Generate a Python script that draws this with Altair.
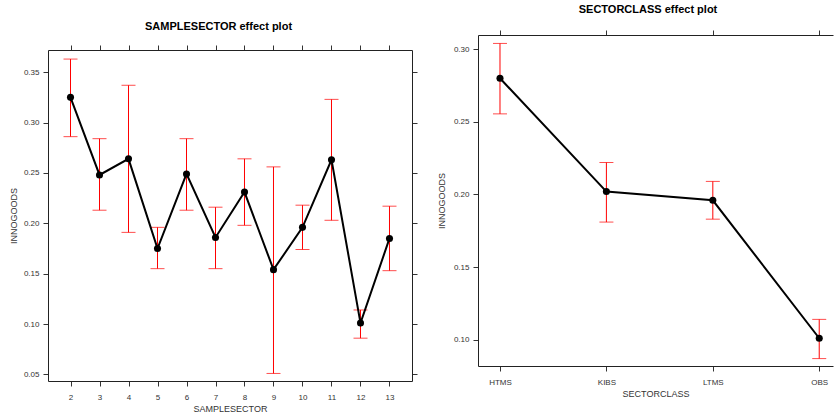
import altair as alt
import pandas as pd

# ---- data ----
sample_sectors = ["2", "3", "4", "5", "6", "7", "8", "9", "10", "11", "12", "13"]
sample_fit = [0.325, 0.248, 0.264, 0.175, 0.249, 0.186, 0.231, 0.154, 0.196, 0.263, 0.101, 0.185]
sample_lower = [0.286, 0.213, 0.191, 0.155, 0.213, 0.155, 0.198, 0.051, 0.174, 0.203, 0.086, 0.153]
sample_upper = [0.363, 0.284, 0.337, 0.196, 0.284, 0.216, 0.264, 0.256, 0.218, 0.323, 0.114, 0.217]

sector_classes = ["HTMS", "KIBS", "LTMS", "OBS"]
class_fit = [0.280, 0.202, 0.196, 0.101]
class_lower = [0.2555, 0.181, 0.183, 0.087]
class_upper = [0.304, 0.222, 0.209, 0.114]

left_yticks = [0.05, 0.10, 0.15, 0.20, 0.25, 0.30, 0.35]
right_yticks = [0.10, 0.15, 0.20, 0.25, 0.30]


def panel(cats, fit, lower, upper, xname, title_text, title_dx, title_offset, ytitle_pad,
          ydomain, yticks, pad, align, w, h, right_axis):
    df = pd.DataFrame({xname: cats, "fit": fit, "lower": lower, "upper": upper})
    xs = alt.Scale(type="point", domain=cats, padding=pad, align=align)
    ys = alt.Scale(domain=ydomain, nice=False, zero=False)
    base = alt.Chart(df)

    def xenc(axis):
        return alt.X(f"{xname}:N", scale=xs, sort=cats, axis=axis)

    bars = base.mark_rule(color="#ff0000", strokeWidth=1).encode(
        x=xenc(alt.Axis(orient="bottom", title=xname, labelAngle=0)),
        y=alt.Y("lower:Q", scale=ys,
                axis=alt.Axis(orient="left", title="INNOGOODS", values=yticks, format=".2f",
                              titlePadding=ytitle_pad)),
        y2="upper:Q",
    )
    cap_lo = base.mark_tick(color="#ff0000", orient="horizontal", size=14, thickness=1).encode(
        x=xenc(None), y=alt.Y("lower:Q", scale=ys, axis=None)
    )
    cap_hi = base.mark_tick(color="#ff0000", orient="horizontal", size=14, thickness=1).encode(
        x=xenc(None), y=alt.Y("upper:Q", scale=ys, axis=None)
    )
    if right_axis:
        ry = alt.Axis(orient="right", labels=False, title=None, values=yticks)
    else:
        ry = None
    line = base.mark_line(color="black", strokeWidth=2).encode(
        x=xenc(alt.Axis(orient="top", labels=False, title=None)),
        y=alt.Y("fit:Q", scale=ys, axis=ry),
    )
    pts = base.mark_point(filled=True, color="black", size=50, opacity=1).encode(
        x=xenc(None), y=alt.Y("fit:Q", scale=ys, axis=None)
    )
    return (
        alt.layer(bars, cap_lo, cap_hi, line, pts)
        .resolve_axis(x="independent", y="independent")
        .properties(width=w, height=h,
                    title=alt.TitleParams(text=title_text, frame="group", dx=title_dx,
                                          offset=title_offset))
    )


def spacer(hgt):
    return (
        alt.Chart(pd.DataFrame({"v": [0]}))
        .mark_point(opacity=0, size=1)
        .encode(x=alt.value(0), y=alt.value(0))
        .properties(width=1, height=hgt)
    )


left = panel(sample_sectors, sample_fit, sample_lower, sample_upper, "SAMPLESECTOR",
             "SAMPLESECTOR effect plot", -11.5, 13, 5,
             [0.0435, 0.372], left_yticks, 0.776, 0.5, 364, 331, True)
right = panel(sector_classes, class_fit, class_lower, class_upper, "SECTORCLASS",
              "SECTORCLASS effect plot", -7.5, 15, 7,
              [0.0819, 0.3098], right_yticks, 0.168, 0.615, 355, 331, False)

chart = (
    alt.hconcat(
        alt.vconcat(spacer(18), left, spacing=0),
        alt.vconcat(spacer(1), right, spacing=0),
        spacing=18,
    )
    .properties(padding={"left": 8, "top": 0, "right": 0, "bottom": 0})
    .configure_view(stroke="transparent")
    .configure_axis(
        labelFont="Liberation Sans", labelFontSize=8, labelColor="#333333",
        titleFont="Liberation Sans", titleFontSize=9, titleFontWeight="normal",
        titleColor="#333333", tickColor="#333333", tickSize=5, labelPadding=4,
        grid=False, domain=True, domainColor="#222222", domainWidth=1,
    )
    .configure_axisX(titlePadding=3, labelPadding=7)
    .configure_title(font="Liberation Sans", fontSize=11, fontWeight="bold",
                     color="black", anchor="middle")
)

chart.save("out.html", embed_options={"renderer": "svg", "actions": False})
